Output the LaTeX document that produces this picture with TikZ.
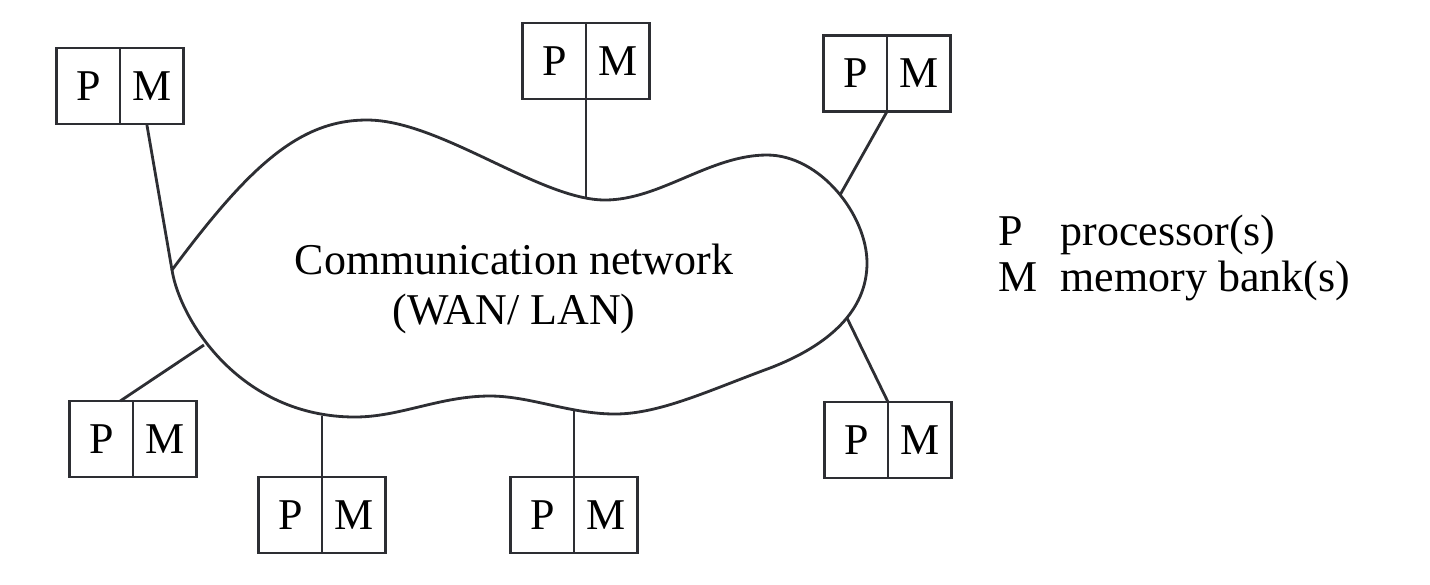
\documentclass[tikz,border=0pt]{standalone}
\usepackage{fontspec}
\setmainfont{Liberation Serif}
\definecolor{ln}{RGB}{45,46,51}
\newcommand\figfont{\fontsize{12.5pt}{14.2pt}\selectfont}
\newcommand\pmunit[3]{%
  \node[half, anchor=east] (p#1) at (#2,#3) {P};
  \node[half, anchor=west] (m#1) at (#2,#3) {M};}
\begin{document}
\begin{tikzpicture}[x=0.01cm,y=-0.01cm,
  half/.style={draw=ln, line width=0.8pt, minimum width=0.635cm, minimum height=0.76cm, inner sep=0pt, outer sep=0pt, font=\figfont},
  wire/.style={draw=ln, line width=0.8pt},
  cloudline/.style={draw=ln, line width=0.8pt, line join=round}]
\useasboundingbox (0,0) rectangle (1430,584);

% cloud
\draw[cloudline] (172,270) .. controls (250,165) and (300,120) .. (367,120)
  .. controls (440,120) and (540,200) .. (605,200)
  .. controls (660,200) and (710,155) .. (767,155)
  .. controls (820,155) and (867,215) .. (867,263)
  .. controls (867,310) and (830,345) .. (770,368)
  .. controls (710,390) and (660,414) .. (615,414)
  .. controls (570,414) and (530,396) .. (490,396)
  .. controls (440,396) and (400,417) .. (355,417)
  .. controls (240,417) and (180,320) .. (172,270) -- cycle;

\coordinate (c1) at (172,270);
\coordinate (c2) at (586,198);
\coordinate (c3) at (840,195);
\coordinate (c4) at (204,345);
\coordinate (c5) at (322,416);
\coordinate (c6) at (574,410);
\coordinate (c7) at (847,318);

\node[font=\figfont, align=center] (net) at (514,289) {Communication network\\(WAN/ LAN)};

\node[font=\figfont, anchor=base west, inner sep=0pt] (legend) at (998,245)
  {\begin{tabular}[t]{@{}l@{\hspace{0.23cm}}l@{}}P & processor(s)\\[-0.03cm] M & memory bank(s)\end{tabular}};

\pmunit{1}{120}{86}
\pmunit{2}{586}{61}
\pmunit{3}{887}{73.5}
\pmunit{4}{133}{439}
\pmunit{5}{322}{515}
\pmunit{6}{574}{515}
\pmunit{7}{888}{440}

\draw[wire] ([xshift=-0.05cm]m1.south) -- (c1);
\draw[wire] (p2.south east) -- (c2);
\draw[wire] (p3.south east) -- (c3);
\draw[wire] ([xshift=0.19cm]p4.north) -- (c4);
\draw[wire] (p5.north east) -- (c5);
\draw[wire] (p6.north east) -- (c6);
\draw[wire] (p7.north east) -- (c7);
\end{tikzpicture}
\end{document}
